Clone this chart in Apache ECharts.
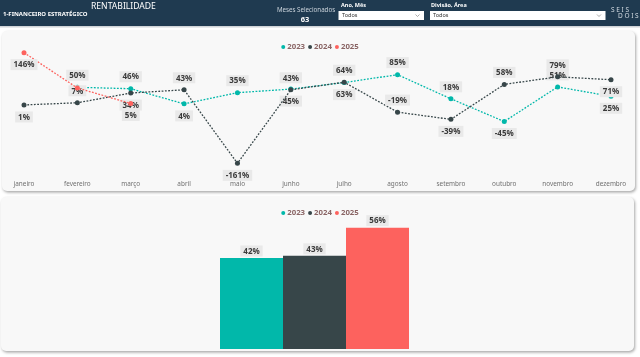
<!DOCTYPE html>
<html><head><meta charset="utf-8">
<script src="https://cdn.jsdelivr.net/npm/echarts@6/dist/echarts.min.js"></script>
<style>html,body{margin:0;padding:0;background:#ffffff;}#c{width:640px;height:357px;}</style>
</head><body><div id="c"></div>
<script>
const months = ['janeiro','fevereiro','março','abril','maio','junho','julho','agosto','setembro','outubro','novembro','dezembro'];
const years = ['2023','2024','2025'];
const v2023 = [null, 50, 46, 4, 35, 45, 63, 85, 18, -45, 51, 25];
const v2024 = [1, 7, 34, 43, -161, 43, 64, -19, -39, 58, 79, 71];
const v2025 = [146, 48, 5, null, null, null, null, null, null, null, null, null];
const totals = [42, 43, 56];

const colors = ['#01B8AA', '#374649', '#FD625E'];
// label placement per point (style only)
const pos2023 = ['top','top','top','bottom','top','bottom','bottom','top','top','bottom','top','bottom'];
const pos2024 = ['bottom','top','bottom','top','bottom','top','top','top','bottom','top','top','bottom'];
const pos2025 = ['bottom','hide','bottom'];

const FONT = '"Noto Sans", "Open Sans", sans-serif';
const lblBase = {show:true, formatter: p => p.value + '%', backgroundColor:'#e9e9e9', padding:[2,3,1,3],
  fontSize:8, fontWeight:'bold', color:'#3a3a3a', fontFamily:FONT, distance:4};

function mk(vals, pos) {
  return vals.map((v,i) => {
    if (v === null) return null;
    const p = pos[i];
    if (p === 'hide') return {value:v, label:{show:false}};
    return {value:v, label:{position:p}};
  });
}

const chart = echarts.init(document.getElementById('c'), null, {renderer:'canvas'});

const header = [
  {type:'rect', shape:{x:0,y:0,width:640,height:26}, style:{fill:'#1f3a50'}, z:-5},
  {type:'rect', shape:{x:0,y:26,width:640,height:1.5}, style:{fill:'#d0d4d8'}, z:-5},
  {type:'text', x:3, y:14, style:{text:'1-FINANCEIRO ESTRATÉGICO', fill:'#fff', font:'bold 6px '+FONT, textVerticalAlign:'middle'}},
  {type:'text', x:91, y:6.5, style:{text:'RENTABILIDADE', fill:'#fff', font:'8.6px '+FONT, textVerticalAlign:'middle'}},
  {type:'text', x:306, y:10, style:{text:'Meses Selecionados', fill:'#c9d2da', font:'6.2px '+FONT, textAlign:'center', textVerticalAlign:'middle'}},
  {type:'text', x:305, y:19.5, style:{text:'63', fill:'#fff', font:'bold 7.5px '+FONT, textAlign:'center', textVerticalAlign:'middle'}},
  {type:'text', x:341, y:5, style:{text:'Ano, Mês', fill:'#fff', font:'bold 5.5px '+FONT, textVerticalAlign:'middle'}},
  {type:'rect', shape:{x:338.5,y:11,width:85.5,height:9}, style:{fill:'#fff'}},
  {type:'text', x:342, y:15.5, style:{text:'Todos', fill:'#333', font:'5.5px '+FONT, textVerticalAlign:'middle'}},
  {type:'polyline', shape:{points:[[415.5,14.5],[417.5,16.5],[419.5,14.5]]}, style:{stroke:'#888', lineWidth:0.7, fill:null}},
  {type:'text', x:431, y:5, style:{text:'Divisão, Área', fill:'#fff', font:'bold 5.5px '+FONT, textVerticalAlign:'middle'}},
  {type:'rect', shape:{x:430,y:11,width:175.5,height:9}, style:{fill:'#fff'}},
  {type:'text', x:433, y:15.5, style:{text:'Todos', fill:'#333', font:'5.5px '+FONT, textVerticalAlign:'middle'}},
  {type:'polyline', shape:{points:[[597,14.5],[599,16.5],[601,14.5]]}, style:{stroke:'#888', lineWidth:0.7, fill:null}},
  {type:'text', x:611, y:10, style:{text:'S E I S', fill:'#d5dde4', font:'6.5px '+FONT, textVerticalAlign:'middle'}},
  {type:'text', x:618, y:16.5, style:{text:'D O I S', fill:'#d5dde4', font:'6.5px '+FONT, textVerticalAlign:'middle'}},
  // cards
  {type:'rect', shape:{x:2,y:31,width:633,height:160,r:5}, style:{fill:'#f8f8f8', shadowBlur:3, shadowColor:'rgba(0,0,0,0.35)', shadowOffsetX:1, shadowOffsetY:1.5}, z:-10},
  {type:'rect', shape:{x:1,y:197,width:633,height:154,r:5}, style:{fill:'#f8f8f8', shadowBlur:3, shadowColor:'rgba(0,0,0,0.35)', shadowOffsetX:1, shadowOffsetY:1.5}, z:-10}
];

const legendBase = {data:years, icon:'circle', itemWidth:4, itemHeight:4, itemGap:3,
  textStyle:{fontSize:7.8, color:'#8a6565', fontFamily:FONT, fontWeight:'bold', padding:[0,0,0,-3]}, selectedMode:false};

const seriesLines = [v2023, v2024, v2025].map((vals, k) => ({
  type:'line', name:years[k], xAxisIndex:0, yAxisIndex:0,
  data: mk(vals, [pos2023,pos2024,pos2025][k]),
  symbol:'circle', symbolSize:5, connectNulls:false,
  lineStyle:{type:[1.8,1.5], width:1.3, color:colors[k]},
  itemStyle:{color:colors[k]},
  label:Object.assign({}, lblBase), z:3+k
}));

const seriesBars = totals.map((v,k) => ({
  type:'bar', name:years[k], xAxisIndex:1, yAxisIndex:1,
  data:[v], barWidth:63, barGap:'0%', itemStyle:{color:colors[k]},
  label:Object.assign({}, lblBase, {position:'top', distance:1.5})
}));

chart.setOption({
  backgroundColor:'#ffffff',
  animation:false,
  graphic:header,
  legend:[
    Object.assign({}, legendBase, {top:38, left:'center'}),
    Object.assign({}, legendBase, {top:204, left:'center'})
  ],
  grid:[
    {left:24, right:29, top:33.2, bottom:179.6},
    {left:10, right:21, top:219, bottom:8}
  ],
  xAxis:[
    {type:'category', gridIndex:0, data:months, boundaryGap:false,
     axisLine:{show:false, onZero:false}, axisTick:{show:false},
     axisLabel:{fontSize:6.4, color:'#707070', fontFamily:FONT, margin:3.5, interval:0}},
    {type:'category', gridIndex:1, data:['Total'], show:false}
  ],
  yAxis:[
    {type:'value', gridIndex:0, min:-200, max:200, show:false, splitLine:{show:false}},
    {type:'value', gridIndex:1, min:0, max:60, show:false, splitLine:{show:false}}
  ],
  series: seriesLines.concat(seriesBars)
});
</script></body></html>
